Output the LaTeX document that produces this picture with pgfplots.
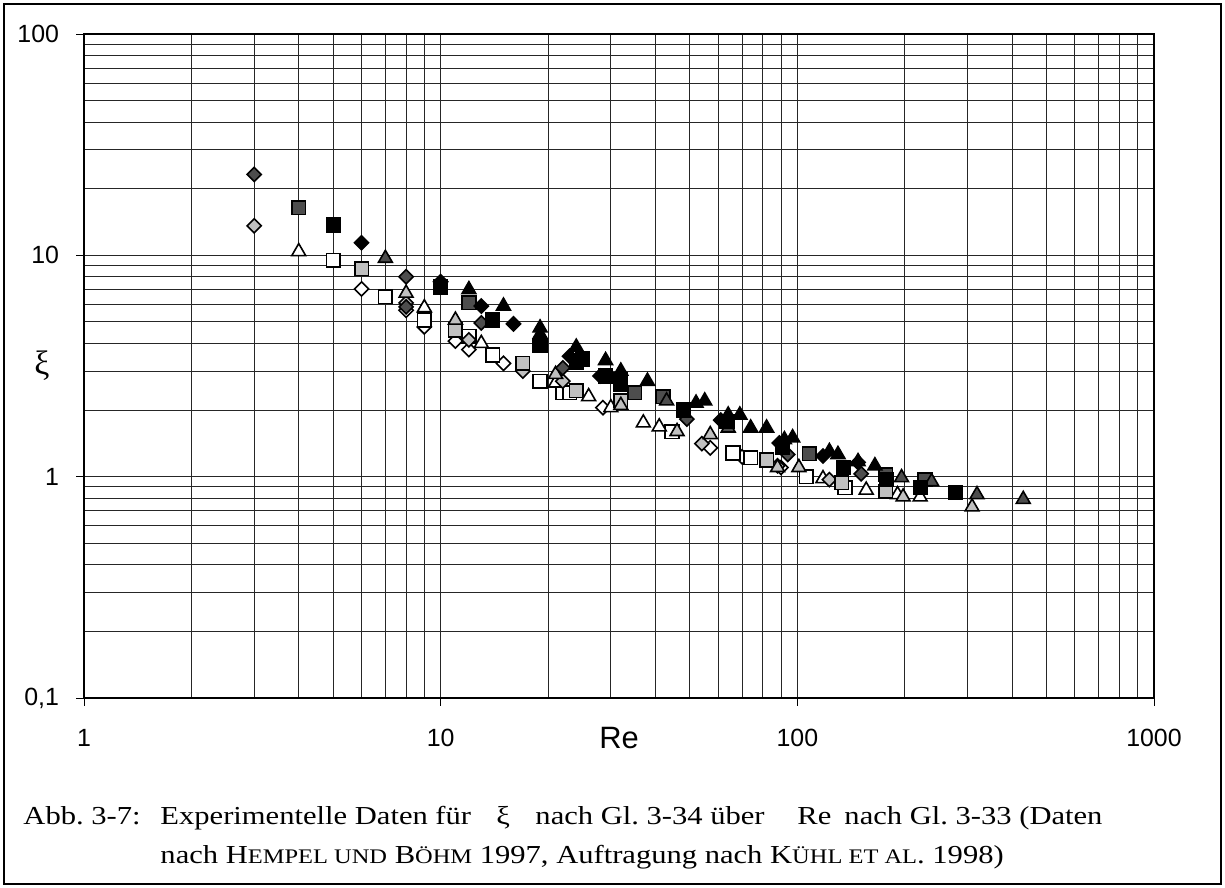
\documentclass[border=0pt]{standalone}
\usepackage{pgfplots}
\pgfplotsset{compat=1.18}
\usepackage{fontspec}
\setmainfont{Liberation Serif}
\newfontfamily\arial{Liberation Sans}
\definecolor{lgray}{HTML}{C0C0C0}
\definecolor{dgray}{HTML}{4D4D4D}
\pgfplotsset{
  dia/.style={only marks, mark=square*, mark size=2.5bp, mark options={rotate=45, draw=black, line width=0.8bp, fill=#1}},
  sqr/.style={only marks, mark=square*, mark size=3.4bp, mark options={draw=black, line width=0.8bp, fill=#1}},
  tri/.style={only marks, mark=triangle*, mark size=4bp, mark options={draw=black, line width=0.8bp, fill=#1}},
}
\tikzset{captxt/.style={anchor=base west, inner sep=0pt, font=\fontsize{13}{15}\selectfont, xscale=1.18, transform shape}}
\newcommand{\smc}[1]{{\fontsize{10.4}{12}\selectfont #1}}
\frenchspacing
\begin{document}
\begin{tikzpicture}
\path[use as bounding box] (0bp,0bp) rectangle (612.5bp,-444bp);
\draw[line width=1bp] (2bp,-2bp) rectangle (610.5bp,-442bp);
\begin{axis}[
  at={(42bp,-17bp)}, anchor=north west,
  scale only axis, width=535bp, height=332bp,
  xmode=log, ymode=log,
  xmin=1, xmax=1000, ymin=0.1, ymax=100,
  xtick={1,10,100,1000}, xticklabels={1,10,100,1000},
  ytick={0.1,1,10,100}, yticklabels={{0,1},1,10,100},
  minor xtick={2,3,4,5,6,7,8,9,20,30,40,50,60,70,80,90,200,300,400,500,600,700,800,900},
  minor ytick={0.2,0.3,0.4,0.5,0.6,0.7,0.8,0.9,2,3,4,5,6,7,8,9,20,30,40,50,60,70,80,90},
  grid=both,
  major grid style={black!85, line width=0.5bp},
  minor grid style={black!85, line width=0.5bp},
  tick align=outside, major tick length=4bp, minor tick length=0pt,
  xtick pos=bottom, ytick pos=left,
  tick style={black, line width=0.5bp},
  axis line style={black, line width=0.6bp},
  ticklabel style={font=\arial\fontsize{12.5}{14}\selectfont},
  xticklabel style={yshift=-8bp},
  yticklabel style={xshift=-5bp},
  xlabel={\arial\fontsize{15.5}{18}\selectfont Re},
  xlabel style={at={(rel axis cs:0.5,0)}, anchor=center, yshift=-20bp, inner sep=0pt},
  ylabel={\fontsize{17}{18}\selectfont ξ},
  ylabel style={at={(rel axis cs:0,0.5)}, anchor=center, rotate=-90, xshift=-21bp, inner sep=0pt},
  clip=false,
]
% white diamonds
\addplot[dia=white] coordinates {(6,7.05) (8,5.65) (9,4.75) (11,4.1) (12,3.75) (15,3.25) (28.5,2.05) (57,1.35) (70,1.23) (90,1.1)};
% white squares
\addplot[sqr=white] coordinates {(5,9.5) (7,6.5) (9,5.1) (12,4.3) (14,3.55) (19,2.7) (22,2.4) (23,2.4) (44.5,1.6) (66,1.28) (74,1.22) (106,1.0) (136,0.89)};
% white triangles
\addplot[tri=white] coordinates {(4,10.4) (9,5.8) (13,4.0) (21,2.65) (26,2.3) (30,2.05) (37,1.75) (41,1.68) (118,0.98) (156,0.87) (191,0.83) (221,0.81)};
% light gray diamonds
\addplot[dia=lgray] coordinates {(3,13.6) (8,6.1) (12,4.15) (17,3.0) (22,2.7) (54,1.41) (88,1.12) (123,0.97)};
% light gray squares
\addplot[sqr=lgray] coordinates {(6,8.7) (11,4.6) (17,3.25) (24,2.45) (32,2.2) (82,1.19) (133,0.94) (177,0.86)};
% light gray triangles
\addplot[tri=lgray] coordinates {(8,6.75) (11,5.1) (21,2.9) (32,2.1) (46,1.6) (57,1.55) (88,1.1) (101,1.1) (198,0.81) (309,0.73)};
% dark gray diamonds
\addplot[dia=dgray] coordinates {(3,23.2) (8,8.0) (8,5.85) (13,4.95) (22,3.1) (49,1.82) (94,1.26) (151,1.03)};
% dark gray squares
\addplot[sqr=dgray] coordinates {(4,16.4) (12,6.1) (35,2.4) (42,2.3) (108,1.27) (177,1.02) (228,0.97)};
% dark gray triangles
\addplot[tri=dgray] coordinates {(7,9.7) (43,2.2) (64,1.66) (196,0.99) (238,0.95) (319,0.83) (430,0.79)};
% black diamonds
\addplot[dia=black] coordinates {(6,11.4) (10,7.6) (13,5.9) (16,4.9) (19,4.1) (23,3.5) (28,2.85) (61,1.8) (89,1.42) (118,1.24) (148,1.16)};
% black squares
\addplot[sqr=black] coordinates {(5,13.7) (10,7.2) (14,5.1) (19,3.9) (24,3.3) (25,3.4) (29,2.85) (32,2.75) (32,2.6) (48,2.0) (63.5,1.77) (91,1.36) (135,1.1) (178,0.97) (221,0.89) (277,0.85)};
% black triangles
\addplot[tri=black] coordinates {(12,7.0) (15,5.9) (19,4.7) (19,4.4) (24,3.85) (29,3.35) (32,3.0) (38,2.7) (52,2.15) (55,2.2) (64,1.9) (69,1.9) (74,1.66) (82,1.66) (92,1.47) (97,1.5) (123,1.3) (130,1.26) (148,1.17) (165,1.12)};
\end{axis}
\node[captxt] at (11.5bp,-412bp) {Abb. 3-7:};
\node[captxt] at (80bp,-412bp) {Experimentelle Daten für};
\node[captxt] at (248bp,-412bp) {ξ};
\node[captxt] at (267.5bp,-412bp) {nach Gl. 3-34 über};
\node[captxt] at (398.5bp,-412bp) {Re};
\node[captxt] at (422bp,-412bp) {nach Gl. 3-33 (Daten};
\node[captxt] at (80bp,-431.5bp) {nach H\smc{EMPEL UND} B\smc{ÖHM} 1997, Auftragung nach K\smc{ÜHL ET AL}. 1998)};
\end{tikzpicture}
\end{document}
